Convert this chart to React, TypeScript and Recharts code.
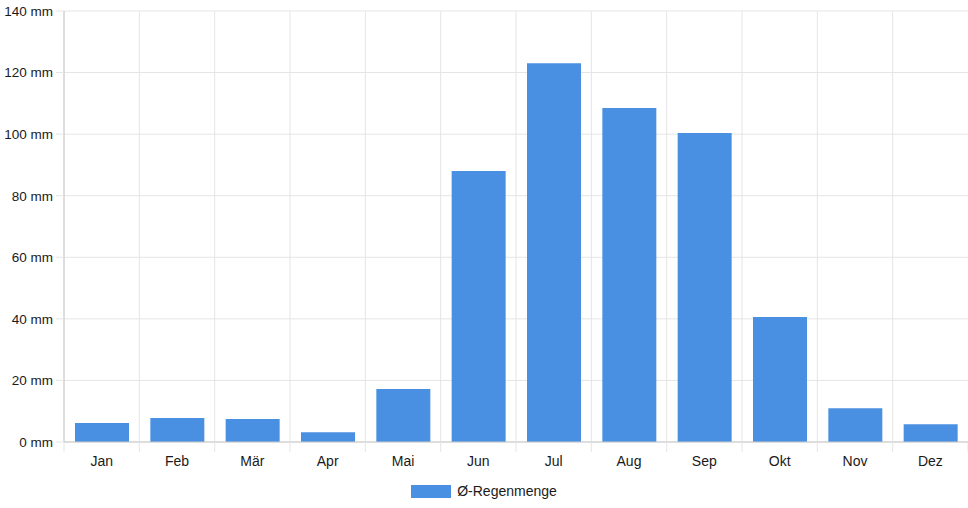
import React from "react";
import {
  BarChart,
  Bar,
  XAxis,
  YAxis,
  CartesianGrid,
  Legend,
} from "recharts";

const months = ["Jan", "Feb", "Mär", "Apr", "Mai", "Jun", "Jul", "Aug", "Sep", "Okt", "Nov", "Dez"];
const rainfall = [6.2, 7.8, 7.5, 3.2, 17.2, 88, 123, 108.5, 100.4, 40.6, 11, 5.8];
const yTicks = [0, 20, 40, 60, 80, 100, 120, 140];
const seriesName = "Ø-Regenmenge";

const data = months.map((month, i) => ({ month, rain: rainfall[i] }));

const W = 968;
const H = 508;
const Y_AXIS_W = 64;
const BAND = (W - Y_AXIS_W) / months.length;
const FONT = "'Liberation Sans', Arial, sans-serif";
const FONT_SIZE = 14;
const TEXT = "#1a1a1a";
const BAR_COLOR = "#4a90e2";
const GRID = "#e5e5e5";
const AXIS = "#c8c8c8";

function MonthTick(props: any) {
  const { x, y, payload, index } = props;
  const left = x - BAND / 2;
  const axisY = y - 14;
  return (
    <g>
      <line x1={left} x2={left} y1={axisY} y2={axisY + 10} stroke={GRID} />
      {index === months.length - 1 && (
        <line x1={left + BAND} x2={left + BAND} y1={axisY} y2={axisY + 10} stroke={GRID} />
      )}
      <text x={x} y={y} dy="0.71em" textAnchor="middle" fill={TEXT} fontSize={FONT_SIZE} fontFamily={FONT}>
        {payload.value}
      </text>
    </g>
  );
}

function RainTick(props: any) {
  const { x, y, payload } = props;
  return (
    <text x={x} y={y} dy="0.355em" textAnchor="end" fill={TEXT} fontSize={13.5} fontFamily={FONT}>
      {`${payload.value} mm`}
    </text>
  );
}

function RainLegend() {
  return (
    <div
      style={{
        height: 38,
        boxSizing: "border-box",
        paddingTop: 14,
        display: "flex",
        justifyContent: "center",
        alignItems: "flex-start",
        fontFamily: FONT,
        fontSize: FONT_SIZE,
        color: TEXT,
      }}
    >
      <div style={{ display: "flex", alignItems: "center", height: 14 }}>
        <span style={{ width: 40, height: 13, background: BAR_COLOR, display: "inline-block", marginRight: 6 }} />
        <span>{seriesName}</span>
      </div>
    </div>
  );
}

export default function App() {
  return (
    <div style={{ position: "absolute", left: 0, top: 0, width: W, height: H, background: "#fff" }}>
      <BarChart
        width={W}
        height={H}
        data={data}
        margin={{ top: 11, right: 0, left: 0, bottom: 0 }}
        barSize={54}
        style={{ overflow: "visible" }}
      >
        <CartesianGrid
          stroke={GRID}
          verticalCoordinatesGenerator={({ offset }: any) =>
            months.map((_, i) => offset.left + (i * offset.width) / months.length)
          }
        />
        <XAxis
          dataKey="month"
          height={28}
          stroke={AXIS}
          tickLine={false}
          tickSize={10}
          tickMargin={4}
          tick={<MonthTick />}
          interval={0}
        />
        <YAxis
          width={Y_AXIS_W}
          domain={[0, 140]}
          ticks={yTicks}
          stroke={AXIS}
          tickLine={{ stroke: GRID }}
          tickSize={8}
          tickMargin={3}
          tick={<RainTick />}
        />
        <Legend verticalAlign="bottom" height={38} content={<RainLegend />} />
        <Bar dataKey="rain" name={seriesName} fill={BAR_COLOR} isAnimationActive={false} />
      </BarChart>
    </div>
  );
}
